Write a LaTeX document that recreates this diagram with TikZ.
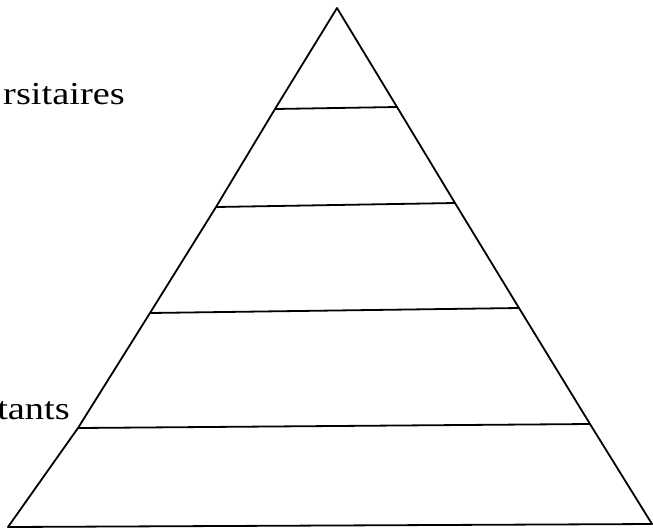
\documentclass[tikz,border=0pt]{standalone}
\usepackage{graphicx}
\usepackage{fontspec}
\setmainfont{Liberation Serif}
\begin{document}
\begin{tikzpicture}[x=1pt,y=-1pt,
  edge/.style={draw=black,line width=1.8pt,line join=round},
  lbl/.style={font=\fontsize{32}{38}\selectfont,inner sep=0pt,anchor=base east}]
\useasboundingbox (0,0) rectangle (653,531);
\clip (0,0) rectangle (653,531);
\coordinate (apex) at (337,8);
\coordinate (bl) at (8,527);
\coordinate (br) at (652,524);
\coordinate (a1) at (275,109);
\coordinate (b1) at (397,107);
\coordinate (a2) at (216,207);
\coordinate (b2) at (455,203);
\coordinate (a3) at (150,313);
\coordinate (b3) at (519,308);
\coordinate (a4) at (78,428);
\coordinate (b4) at (590,424);
\draw[edge] (bl) -- (a4) -- (a3) -- (a2) -- (a1) -- (apex) -- (b1) -- (b2) -- (b3) -- (b4) -- (br) -- cycle;
\draw[edge] (a1) -- (b1);
\draw[edge] (a2) -- (b2);
\draw[edge] (a3) -- (b3);
\draw[edge] (a4) -- (b4);
\node[lbl] (t1) at (125,104) {\scalebox{1.2}[1]{rsitaires}};
\node[lbl] (t2) at (70,419) {\scalebox{1.2}[1]{tants}};
\end{tikzpicture}
\end{document}
